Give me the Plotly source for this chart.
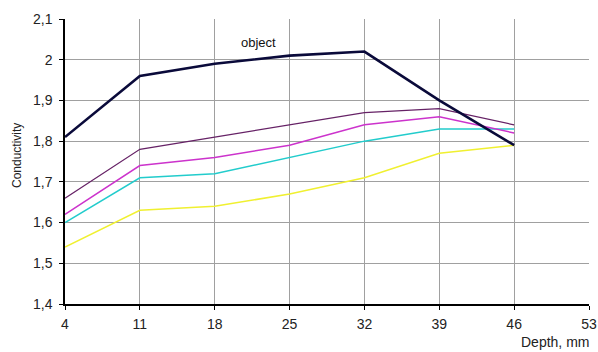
import plotly.graph_objects as go

depth = [4, 11, 18, 25, 32, 39, 46]
obj = [1.81, 1.96, 1.99, 2.01, 2.02, 1.90, 1.79]
s_purple = [1.66, 1.78, 1.81, 1.84, 1.87, 1.88, 1.84]
s_magenta = [1.62, 1.74, 1.76, 1.79, 1.84, 1.86, 1.82]
s_cyan = [1.60, 1.71, 1.72, 1.76, 1.80, 1.83, 1.83]
s_yellow = [1.54, 1.63, 1.64, 1.67, 1.71, 1.77, 1.79]
x_ticks = [4, 11, 18, 25, 32, 39, 46, 53]
y_ticks = [1.4, 1.5, 1.6, 1.7, 1.8, 1.9, 2.0, 2.1]
y_labels = ["1,4", "1,5", "1,6", "1,7", "1,8", "1,9", "2", "2,1"]

fig = go.Figure()
series = [
    (s_yellow, "#f0f030", 1.5),
    (s_cyan, "#22cccc", 1.5),
    (s_magenta, "#cc33cc", 1.5),
    (s_purple, "#662266", 1.2),
    (obj, "#0a0a3a", 2.6),
]
for vals, col, w in series:
    fig.add_trace(go.Scatter(x=depth, y=vals, mode="lines",
                             line=dict(color=col, width=w), showlegend=False))

fig.add_annotation(x=22.1, y=2.043, text="object", showarrow=False,
                   font=dict(size=13, color="#111"))

W, H = 598, 352
L, R, T, B = 65, 9, 19, 48
fig.update_layout(
    width=W, height=H,
    margin=dict(l=L, r=R, t=T, b=B, autoexpand=False),
    paper_bgcolor="white", plot_bgcolor="white",
    font=dict(family="Liberation Sans, Arial, sans-serif", color="#222"),
    xaxis=dict(range=[4, 53], tickvals=x_ticks, ticktext=[str(v) for v in x_ticks],
               showgrid=True, gridcolor="#a0a0a0", gridwidth=1,
               showline=True, linecolor="black", linewidth=1.5,
               ticks="outside", ticklen=4, tickcolor="black",
               tickfont=dict(size=14), zeroline=False, ticklabelstandoff=2,
               ticklabeloverflow="allow"),
    yaxis=dict(range=[1.4, 2.1], tickvals=y_ticks, ticktext=y_labels,
               showgrid=True, gridcolor="#a0a0a0", gridwidth=1,
               showline=True, linecolor="black", linewidth=1.5,
               ticks="outside", ticklen=4, tickcolor="black",
               tickfont=dict(size=14), zeroline=False, ticklabelstandoff=4,
               ticklabeloverflow="allow"),
)
pw, ph = W - L - R, H - T - B
fig.add_annotation(x=(17 - L) / pw, xref="paper", y=(H - B - 156) / ph, yref="paper",
                   xanchor="center", yanchor="middle", textangle=-90,
                   text="Conductivity", showarrow=False,
                   font=dict(size=12, color="#222"))
fig.add_annotation(x=(591 - L) / pw, xref="paper", y=(H - B - 342) / ph, yref="paper",
                   xanchor="right", yanchor="middle",
                   text="Depth, mm", showarrow=False,
                   font=dict(size=14, color="#222"))
fig.write_html("out.html", config={"displayModeBar": False},
               post_script="document.body.style.margin='0';document.body.style.overflow='hidden';")
